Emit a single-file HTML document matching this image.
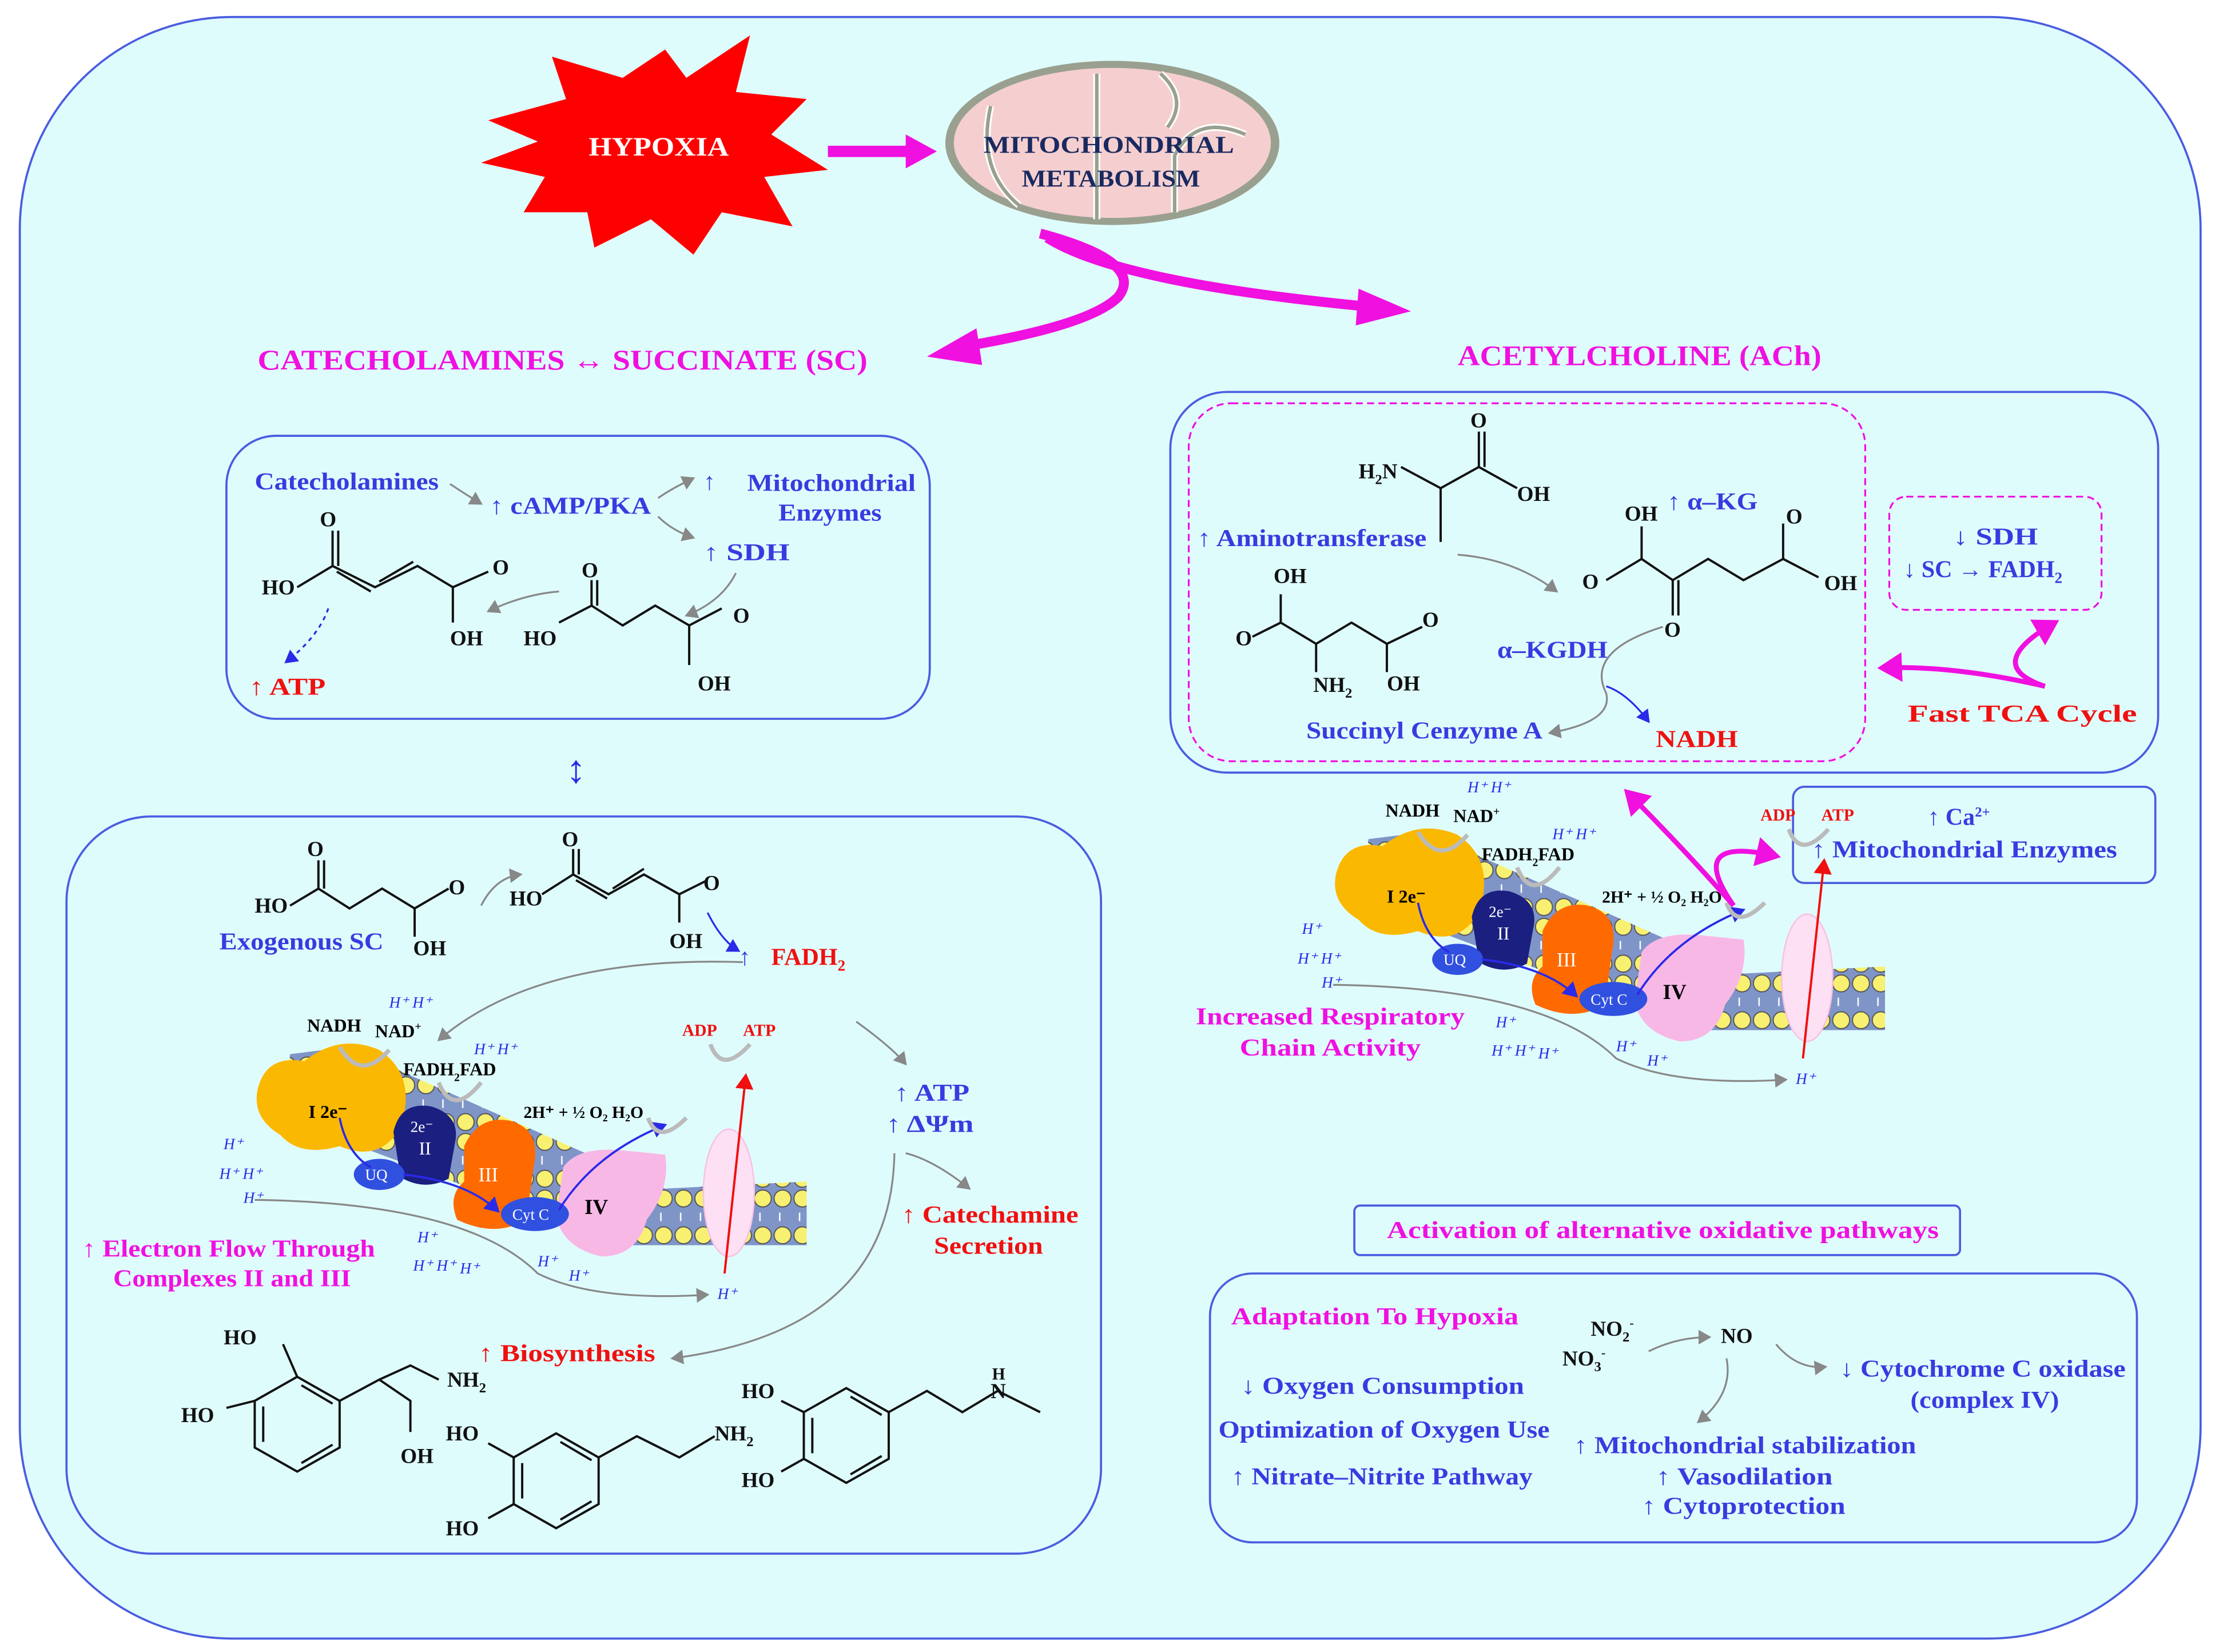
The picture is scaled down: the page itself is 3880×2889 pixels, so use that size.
<!DOCTYPE html>
<html><head><meta charset="utf-8"><style>
html,body{margin:0;padding:0;background:#fff;}
svg{display:block;}
text{font-family:"Liberation Serif",serif;}
.b{fill:#3a3ae0;font-size:17px;font-weight:bold;}
.m{fill:#f010e0;font-size:17px;font-weight:bold;}
.r{fill:#f01010;font-size:17px;font-weight:bold;}
.k{fill:#111;font-size:15px;font-weight:bold;}
.h{fill:#2a2ae8;font-size:11px;font-style:italic;}
.bond{stroke:#111;stroke-width:1.6;fill:none;}
.g{stroke:#888;stroke-width:1.3;fill:none;}
</style></head><body>
<svg width="3880" height="2889" viewBox="0 0 1568 1167.5" xmlns="http://www.w3.org/2000/svg">
<defs>
<marker id="ag" markerWidth="8" markerHeight="8" refX="6" refY="4" orient="auto"><path d="M0,0 L7,4 L0,8z" fill="#888"/></marker>
<marker id="ab" markerWidth="8" markerHeight="8" refX="6" refY="4" orient="auto"><path d="M0,0 L7,4 L0,8z" fill="#2a2ae8"/></marker>
<marker id="ar" markerWidth="8" markerHeight="8" refX="6" refY="4" orient="auto"><path d="M0,0 L7,4 L0,8z" fill="#f01010"/></marker>
<marker id="am" markerWidth="6" markerHeight="6" refX="4" refY="3" orient="auto"><path d="M0,0 L5,3 L0,6z" fill="#f010e0"/></marker>
<pattern id="mem" width="14" height="40" patternUnits="userSpaceOnUse">
<rect width="14" height="40" fill="#7f95c8"/>
<circle cx="7" cy="7" r="6" fill="#f8f070" stroke="#555" stroke-width="0.8"/>
<circle cx="7" cy="33" r="6" fill="#f8f070" stroke="#555" stroke-width="0.8"/>
<line x1="5" y1="17" x2="5" y2="23" stroke="#fff" stroke-width="1"/>
</pattern>
</defs>
<rect x="0" y="0" width="1568" height="1168" fill="#fff"/>
<rect x="14" y="12" width="1541" height="1146" rx="150" fill="#dffcfd" stroke="#4a5de0" stroke-width="1.5"/>

<!-- hypoxia star -->
<polygon points="345,85 400,70 390,40 440,55 470,35 485,55 530,25 520,65 570,70 545,95 585,120 540,125 560,160 510,150 490,180 460,155 420,175 415,150 370,150 385,125 340,115 380,100" fill="#f00"/>
<text x="416" y="110" textLength="99" lengthAdjust="spacingAndGlyphs" style="font-size:19px;fill:#fff;font-weight:bold">HYPOXIA</text>
<path d="M585,107 L645,107" stroke="#f010e0" stroke-width="8" fill="none"/>
<polygon points="640,95 662,107 640,119" fill="#f010e0"/>

<!-- mitochondrion -->
<ellipse cx="786" cy="101" rx="118" ry="58" fill="#9aa08f"/>
<ellipse cx="786" cy="101" rx="112" ry="53" fill="#f5cfcf"/>
<path d="M700,75 Q690,120 720,145 M775,52 L775,100 Q775,130 775,155 M820,52 Q840,70 825,90 M830,150 L830,110 Q845,80 880,95" stroke="#fff" stroke-width="5" fill="none"/>
<path d="M700,75 Q690,120 720,145 M775,52 L775,100 Q775,130 775,155 M820,52 Q840,70 825,90 M830,150 L830,110 Q845,80 880,95" stroke="#9aa08f" stroke-width="2.5" fill="none"/>
<text x="695" y="108" textLength="177" lengthAdjust="spacingAndGlyphs" style="font-size:17px;fill:#1a2a60;font-weight:bold">MITOCHONDRIAL</text>
<text x="722" y="132" textLength="126" lengthAdjust="spacingAndGlyphs" style="font-size:17px;fill:#1a2a60;font-weight:bold">METABOLISM</text>

<!-- curved magenta arrows -->
<path d="M735,165 Q810,185 790,210 Q770,230 680,245" stroke="#f010e0" stroke-width="7" fill="none"/>
<polygon points="690,232 655,252 694,258" fill="#f010e0"/>
<path d="M740,168 Q790,200 970,217" stroke="#f010e0" stroke-width="7" fill="none"/>
<polygon points="960,204 997,220 958,230" fill="#f010e0"/>

<text x="182" y="261" textLength="431" lengthAdjust="spacingAndGlyphs" class="m" style="font-size:20px">CATECHOLAMINES ↔ SUCCINATE (SC)</text>
<text x="1030" y="258" textLength="257" lengthAdjust="spacingAndGlyphs" class="m" style="font-size:20px">ACETYLCHOLINE  (ACh)</text>

<!-- Box 1 -->
<rect x="160" y="308" width="497" height="200" rx="35" fill="#dffcfd" stroke="#4a5de0" stroke-width="1.5"/>
<text x="180" y="346" textLength="130" lengthAdjust="spacingAndGlyphs" class="b">Catecholamines</text>
<text x="346" y="363" textLength="114" lengthAdjust="spacingAndGlyphs" class="b">↑ cAMP/PKA</text>
<text x="497" y="346" class="b">↑</text>
<text x="528" y="347" textLength="119" lengthAdjust="spacingAndGlyphs" class="b">Mitochondrial</text>
<text x="550" y="368" textLength="73" lengthAdjust="spacingAndGlyphs" class="b">Enzymes</text>
<text x="497" y="396" textLength="61" lengthAdjust="spacingAndGlyphs" class="b">↑ SDH</text>
<text x="176" y="491" textLength="54" lengthAdjust="spacingAndGlyphs" class="r">↑ ATP</text>
<path d="M318,342 Q330,350 340,356" class="g" marker-end="url(#ag)"/>
<path d="M465,352 Q475,345 490,338" class="g" marker-end="url(#ag)"/>
<path d="M465,365 Q475,375 490,380" class="g" marker-end="url(#ag)"/>
<path d="M520,405 Q510,425 485,435" class="g" marker-end="url(#ag)"/>
<path d="M395,418 Q370,420 345,432" class="g" marker-end="url(#ag)"/>
<path d="M232,430 Q225,450 202,468" stroke="#2a2ae8" stroke-width="1.3" stroke-dasharray="3,3" fill="none" marker-end="url(#ab)"/>
<!-- fumarate -->
<path class="bond" d="M210,415 L235,400 L265,415 L295,400 L320,415 M238,404 L262,418 M268,411 L292,397 M235,400 L235,375 M239,400 L239,375 M320,415 L345,404 M320,415 L320,440"/>
<text x="226" y="372" class="k">O</text><text x="185" y="420" class="k">HO</text><text x="348" y="406" class="k">O</text><text x="318" y="456" class="k">OH</text>
<!-- succinate -->
<path class="bond" d="M395,440 L418,428 L440,442 L463,428 L487,442 L510,430 M418,428 L418,410 M422,428 L422,410 M487,442 L487,470"/>
<text x="411" y="408" class="k">O</text><text x="370" y="456" class="k">HO</text><text x="518" y="440" class="k">O</text><text x="493" y="488" class="k">OH</text>

<text x="407" y="553" text-anchor="middle" style="font-size:28px;fill:#2a2ae8">↕</text>

<!-- Box 2 -->
<rect x="47" y="577" width="731" height="521" rx="60" fill="#dffcfd" stroke="#4a5de0" stroke-width="1.5"/>
<path class="bond" d="M205,640 L225,628 L247,642 L270,628 L293,642 L317,628 M225,628 L225,608 M229,628 L229,608 M293,642 L293,662"/>
<text x="217" y="605" class="k">O</text><text x="180" y="645" class="k">HO</text><text x="317" y="632" class="k">O</text><text x="292" y="675" class="k">OH</text>
<text x="155" y="671" textLength="116" lengthAdjust="spacingAndGlyphs" class="b">Exogenous SC</text>
<path d="M340,640 Q350,620 368,618" class="g" marker-end="url(#ag)"/>
<path class="bond" d="M383,632 L405,618 L430,632 L455,618 L480,632 M407,622 L429,635 M433,628 L455,614 M405,618 L405,600 M409,618 L409,600 M480,632 L500,622 M480,632 L480,652"/>
<text x="397" y="598" class="k">O</text><text x="360" y="640" class="k">HO</text><text x="497" y="629" class="k">O</text><text x="473" y="670" class="k">OH</text>
<path d="M500,645 Q510,665 522,672" stroke="#2a2ae8" stroke-width="1.3" fill="none" marker-end="url(#ab)"/>
<text x="522" y="682" class="b">↑ </text><text x="545" y="682" class="r">FADH<tspan font-size="11" dy="4">2</tspan></text>
<path d="M525,680 Q380,675 310,735" class="g" marker-end="url(#ag)"/>
<text x="632" y="778" textLength="53" lengthAdjust="spacingAndGlyphs" class="b">↑ ATP</text>
<text x="626" y="800" textLength="62" lengthAdjust="spacingAndGlyphs" class="b">↑ ΔΨm</text>
<path d="M605,722 Q630,740 640,752" class="g" marker-end="url(#ag)"/>
<path d="M640,815 Q660,820 685,840" class="g" marker-end="url(#ag)"/>
<path d="M632,815 Q630,940 475,960" class="g" marker-end="url(#ag)"/>
<text x="637" y="864" textLength="125" lengthAdjust="spacingAndGlyphs" class="r">↑ Catechamine</text>
<text x="660" y="886" textLength="77" lengthAdjust="spacingAndGlyphs" class="r">Secretion</text>
<text x="58" y="888" textLength="207" lengthAdjust="spacingAndGlyphs" class="m">↑ Electron Flow Through</text>
<text x="80" y="909" textLength="168" lengthAdjust="spacingAndGlyphs" class="m">Complexes II and III</text>
<text x="338" y="962" textLength="125" lengthAdjust="spacingAndGlyphs" class="r">↑ Biosynthesis</text>

<!-- chain left -->
<g id="chain">
<polygon points="205,745 245,740 470,840 570,835 570,880 440,880 200,790" fill="url(#mem)"/>
<path d="M180,848 Q330,850 380,900 Q420,920 500,915" class="g" stroke="#bbb" marker-end="url(#ag)"/>
<path d="M182,770 Q188,745 215,750 Q240,730 268,742 Q295,760 283,797 Q268,822 240,810 Q212,818 198,802 Q178,790 182,770z" fill="#fbb800"/>
<path d="M278,800 Q283,778 305,782 Q324,788 322,805 L317,833 Q300,842 283,832z" fill="#1a1f80"/>
<ellipse cx="268" cy="830" rx="18" ry="11" fill="#3050e0"/>
<path d="M328,810 Q338,788 360,792 Q383,798 377,825 L372,862 Q350,875 323,862 Q316,845 328,835z" fill="#ff6a00"/>
<path d="M398,825 Q408,810 440,813 L470,816 Q474,840 457,862 Q450,888 425,888 Q398,882 393,860z" fill="#f8b8e6"/>
<ellipse cx="378" cy="858" rx="24" ry="12" fill="#3050e0"/>
<ellipse cx="515" cy="843" rx="18" ry="45" fill="#fde0f4" stroke="#f8c0e4"/>
<path d="M512,900 L527,760" stroke="#f01010" stroke-width="1.6" marker-end="url(#ar)"/>
<path d="M240,790 Q245,815 262,825" stroke="#2a2ae8" stroke-width="1.5" fill="none"/>
<path d="M285,830 Q330,835 352,856" stroke="#2a2ae8" stroke-width="1.5" fill="none" marker-end="url(#ab)"/>
<path d="M395,855 Q420,815 470,795" stroke="#2a2ae8" stroke-width="1.5" fill="none" marker-end="url(#ab)"/>
<path d="M240,740 Q255,765 275,742" stroke="#bbb" stroke-width="3" fill="none"/>
<path d="M310,765 Q320,790 340,765" stroke="#bbb" stroke-width="3" fill="none"/>
<path d="M458,790 Q465,810 485,790" stroke="#bbb" stroke-width="3" fill="none"/>
<path d="M502,738 Q510,760 530,738" stroke="#bbb" stroke-width="3" fill="none"/>
<text x="217" y="729" style="font-size:13px;font-weight:bold">NADH</text><text x="265" y="733" style="font-size:13px;font-weight:bold">NAD<tspan font-size="8" dy="-5">+</tspan></text>
<text x="285" y="760" style="font-size:13px;font-weight:bold">FADH<tspan font-size="8" dy="4">2</tspan><tspan dy="-4">FAD</tspan></text>
<text x="370" y="790" style="font-size:12px;font-weight:bold">2H⁺ + ½ O₂  H₂O</text>
<text x="482" y="732" style="font-size:12px;fill:#f01010;font-weight:bold">ADP</text><text x="525" y="732" style="font-size:12px;fill:#f01010;font-weight:bold">ATP</text>
<text x="218" y="790" style="font-size:13px;font-weight:bold">I 2e⁻</text>
<text x="290" y="800" style="font-size:11px;fill:#fff">2e⁻</text><text x="296" y="816" style="font-size:13px;fill:#fff">II</text>
<text x="258" y="834" style="font-size:11px;fill:#fff">UQ</text>
<text x="338" y="835" style="font-size:14px;fill:#fff">III</text>
<text x="362" y="862" style="font-size:11px;fill:#fff">Cyt C</text>
<text x="413" y="858" style="font-size:15px;font-weight:bold">IV</text>
<text x="275" y="712" class="h">H⁺ H⁺</text><text x="335" y="745" class="h">H⁺ H⁺</text>
<text x="158" y="812" class="h">H⁺</text><text x="155" y="833" class="h">H⁺ H⁺</text><text x="172" y="850" class="h">H⁺</text>
<text x="295" y="878" class="h">H⁺</text><text x="292" y="898" class="h">H⁺ H⁺</text><text x="325" y="900" class="h">H⁺</text>
<text x="380" y="895" class="h">H⁺</text><text x="402" y="905" class="h">H⁺</text>
<text x="507" y="918" class="h">H⁺</text>
</g>

<!-- catecholamine structures -->
<g class="bond">
<polygon points="180,990 210,973 240,990 240,1023 210,1040 180,1023"/>
<path d="M186,994 L186,1019 M213,1034 L235,1021 M213,979 L235,992"/>
<path d="M210,973 L200,950 M180,990 L160,995 M240,990 L268,975 L290,990 L290,1012 M268,975 L290,965 L310,975"/>
<polygon points="363,1030 393,1013 423,1030 423,1063 393,1080 363,1063"/>
<path d="M369,1034 L369,1059 M396,1074 L418,1061 M396,1019 L418,1032 M363,1030 L345,1020 M363,1063 L345,1073"/>
<path d="M423,1030 L450,1015 L480,1030 L505,1015"/>
<polygon points="568,998 598,981 628,998 628,1031 598,1048 568,1031"/>
<path d="M574,1002 L574,1027 M601,1042 L623,1029 M601,987 L623,1000 M568,998 L552,990 M568,1031 L552,1040"/>
<path d="M628,998 L655,983 L680,998 L705,983 L735,998"/>
</g>
<text x="158" y="950" class="k">HO</text><text x="128" y="1005" class="k">HO</text><text x="283" y="1034" class="k">OH</text><text x="316" y="980" class="k">NH<tspan font-size="10" dy="4">2</tspan></text>
<text x="315" y="1018" class="k">HO</text><text x="315" y="1085" class="k">HO</text><text x="505" y="1018" class="k">NH<tspan font-size="10" dy="4">2</tspan></text>
<text x="524" y="988" class="k">HO</text><text x="524" y="1051" class="k">HO</text><text x="700" y="988" class="k">N</text><text x="701" y="975" class="k" style="font-size:12px">H</text>

<!-- Right box -->
<rect x="827" y="277" width="698" height="269" rx="40" fill="#dffcfd" stroke="#4a5de0" stroke-width="1.5"/>
<rect x="840" y="285" width="478" height="253" rx="30" fill="none" stroke="#f010e0" stroke-width="1.3" stroke-dasharray="5,3"/>
<rect x="1335" y="351" width="150" height="80" rx="12" fill="none" stroke="#f010e0" stroke-width="1.3" stroke-dasharray="5,3"/>
<text x="1380" y="385" textLength="60" lengthAdjust="spacingAndGlyphs" class="b">↓ SDH</text>
<text x="1345" y="408" class="b">↓ SC → FADH<tspan font-size="11" dy="4">2</tspan></text>
<text x="1348" y="510" textLength="162" lengthAdjust="spacingAndGlyphs" class="r">Fast TCA Cycle</text>
<path d="M1445,485 Q1380,470 1330,472" stroke="#f010e0" stroke-width="3.5" fill="none" marker-end="url(#am)"/>
<path d="M1445,485 Q1400,470 1452,440" stroke="#f010e0" stroke-width="3.5" fill="none" marker-end="url(#am)"/>
<text x="960" y="338" class="k">H<tspan font-size="10" dy="4">2</tspan><tspan dy="-4">N</tspan></text>
<path class="bond" d="M990,330 L1018,345 L1045,330 L1072,345 M1045,330 L1045,305 M1049,330 L1049,305 M1018,345 L1018,383"/>
<text x="1039" y="302" class="k">O</text><text x="1072" y="354" class="k">OH</text>
<text x="846" y="386" textLength="162" lengthAdjust="spacingAndGlyphs" class="b">↑ Aminotransferase</text>
<path class="bond" d="M905,420 L905,440 L930,455 L955,440 L980,455 L980,475 M905,440 L885,450 M930,455 L930,475 M980,455 L1005,443"/>
<text x="900" y="412" class="k">OH</text><text x="873" y="456" class="k">O</text><text x="1005" y="443" class="k">O</text><text x="928" y="489" class="k">NH<tspan font-size="10" dy="4">2</tspan></text><text x="980" y="488" class="k">OH</text>
<path d="M1030,392 Q1070,395 1100,418" class="g" marker-end="url(#ag)"/>
<text x="1148" y="368" class="k">OH</text><text x="1178" y="360" textLength="64" lengthAdjust="spacingAndGlyphs" class="b">↑ α–KG</text>
<path class="bond" d="M1160,372 L1160,395 L1135,410 M1160,395 L1182,410 L1207,395 L1232,410 L1260,395 L1260,370 M1182,410 L1182,435 M1186,410 L1186,435 M1260,395 L1285,408"/>
<text x="1118" y="416" class="k">O</text><text x="1176" y="450" class="k">O</text><text x="1262" y="370" class="k">O</text><text x="1289" y="417" class="k">OH</text>
<text x="1058" y="465" textLength="78" lengthAdjust="spacingAndGlyphs" class="b">α–KGDH</text>
<path d="M1175,443 Q1120,460 1135,490 Q1140,510 1095,518" class="g" marker-end="url(#ag)"/>
<path d="M1135,485 Q1150,490 1165,510" stroke="#2a2ae8" stroke-width="1.3" fill="none" marker-end="url(#ab)"/>
<text x="923" y="522" textLength="167" lengthAdjust="spacingAndGlyphs" class="b">Succinyl Cenzyme A</text>
<text x="1170" y="528" textLength="58" lengthAdjust="spacingAndGlyphs" class="r">NADH</text>

<rect x="1267" y="556" width="256" height="68" rx="8" fill="#dffcfd" stroke="#4a5de0" stroke-width="1.5"/>
<text x="1362" y="583" class="b">↑ Ca<tspan font-size="10" dy="-6">2+</tspan></text>
<text x="1280" y="606" textLength="216" lengthAdjust="spacingAndGlyphs" class="b">↑ Mitochondrial Enzymes</text>

<g transform="translate(762,-152)">
<use href="#chain"/>
</g>
<path d="M1225,640 Q1190,600 1150,560" stroke="#f010e0" stroke-width="3.5" fill="none" marker-end="url(#am)"/>
<path d="M1225,640 Q1190,590 1255,605" stroke="#f010e0" stroke-width="3.5" fill="none" marker-end="url(#am)"/>
<text x="845" y="724" textLength="190" lengthAdjust="spacingAndGlyphs" class="m">Increased Respiratory</text>
<text x="876" y="746" textLength="128" lengthAdjust="spacingAndGlyphs" class="m">Chain Activity</text>

<rect x="957" y="852" width="428" height="35" rx="4" fill="#dffcfd" stroke="#4a5de0" stroke-width="1.5"/>
<text x="980" y="875" textLength="390" lengthAdjust="spacingAndGlyphs" class="m">Activation of alternative  oxidative pathways</text>

<rect x="855" y="900" width="655" height="190" rx="30" fill="#dffcfd" stroke="#4a5de0" stroke-width="1.5"/>
<text x="870" y="936" textLength="203" lengthAdjust="spacingAndGlyphs" class="m">Adaptation To Hypoxia</text>
<text x="877" y="985" textLength="200" lengthAdjust="spacingAndGlyphs" class="b">↓ Oxygen Consumption</text>
<text x="861" y="1016" textLength="234" lengthAdjust="spacingAndGlyphs" class="b">Optimization of Oxygen Use</text>
<text x="870" y="1049" textLength="213" lengthAdjust="spacingAndGlyphs" class="b">↑ Nitrate–Nitrite Pathway</text>
<text x="1124" y="944" class="k">NO<tspan font-size="10" dy="4">2</tspan><tspan font-size="9" dy="-10">-</tspan></text>
<text x="1104" y="965" class="k">NO<tspan font-size="10" dy="4">3</tspan><tspan font-size="9" dy="-10">-</tspan></text>
<text x="1216" y="949" class="k">NO</text>
<path d="M1165,955 Q1185,945 1208,945" class="g" marker-end="url(#ag)"/>
<path d="M1255,950 Q1270,968 1290,966" class="g" marker-end="url(#ag)"/>
<path d="M1220,960 Q1225,985 1200,1005" class="g" marker-end="url(#ag)"/>
<text x="1300" y="973" textLength="202" lengthAdjust="spacingAndGlyphs" class="b">↓ Cytochrome C oxidase</text>
<text x="1350" y="995" textLength="105" lengthAdjust="spacingAndGlyphs" class="b">(complex IV)</text>
<text x="1112" y="1027" textLength="242" lengthAdjust="spacingAndGlyphs" class="b">↑ Mitochondrial stabilization</text>
<text x="1170" y="1049" textLength="125" lengthAdjust="spacingAndGlyphs" class="b">↑ Vasodilation</text>
<text x="1160" y="1070" textLength="144" lengthAdjust="spacingAndGlyphs" class="b">↑ Cytoprotection</text>
</svg>
</body></html>
